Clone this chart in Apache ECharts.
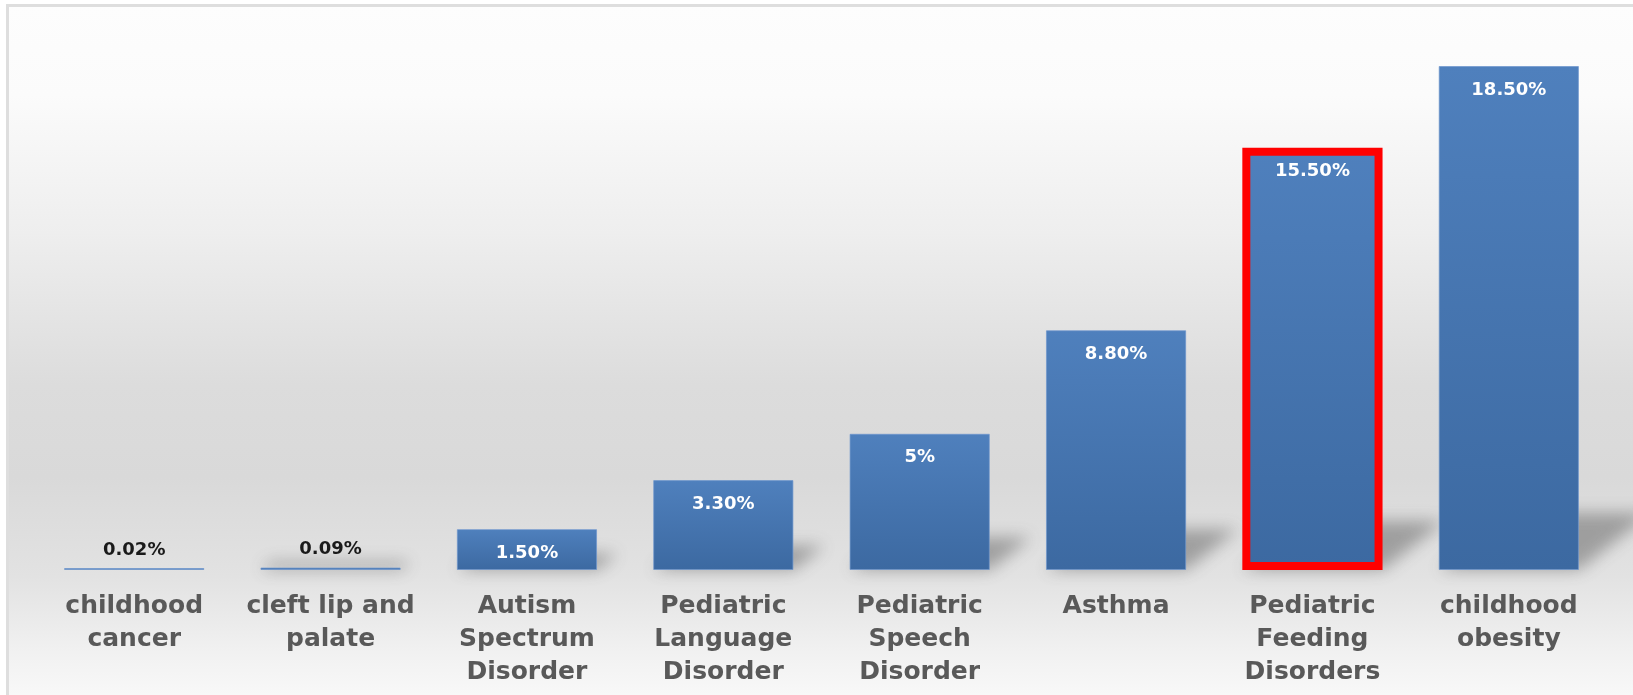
<!DOCTYPE html>
<html>
<head>
<meta charset="utf-8">
<script src="https://cdn.jsdelivr.net/npm/echarts@6/dist/echarts.min.js"></script>
<style>
html,body{margin:0;padding:0;background:#ffffff;}
#chart{width:1633px;height:695px;}
</style>
</head>
<body>
<div id="chart"></div>
<script>
const categories = [
  "childhood\ncancer",
  "cleft lip and\npalate",
  "Autism\nSpectrum\nDisorder",
  "Pediatric\nLanguage\nDisorder",
  "Pediatric\nSpeech\nDisorder",
  "Asthma",
  "Pediatric\nFeeding\nDisorders",
  "childhood\nobesity"
];
const values = [0.02, 0.09, 1.5, 3.3, 5, 8.8, 15.5, 18.5];
const valueLabels = ["0.02%", "0.09%", "1.50%", "3.30%", "5%", "8.80%", "15.50%", "18.50%"];
const highlightIndex = 6;

const chart = echarts.init(document.getElementById('chart'), null, {renderer: 'canvas'});

const barGradient = new echarts.graphic.LinearGradient(0, 0, 0, 1, [
  {offset: 0, color: '#4f80bd'},
  {offset: 1, color: '#3c69a1'}
]);

const barData = values.map((v, i) => {
  const item = {value: v};
  if (v < 1) {
    item.label = {position: 'top', color: '#1a1a1a', distance: 9};
  }
  if (i === highlightIndex) {
    item.itemStyle = {borderColor: '#ff0000', borderWidth: 8};
  }
  return item;
});

const SHIFT = 3000;

const option = {
  backgroundColor: '#ffffff',
  animation: false,
  graphic: [{
    type: 'rect',
    z: -10,
    shape: {x: 7.5, y: 5.5, width: 1700, height: 760},
    style: {
      stroke: '#dedede',
      lineWidth: 3,
      fill: new echarts.graphic.LinearGradient(0, 0, 0, 1, [
        {offset: 0, color: '#fdfdfd'},
        {offset: 0.12, color: '#fbfbfb'},
        {offset: 0.3, color: '#eeeeee'},
        {offset: 0.5, color: '#dcdcdc'},
        {offset: 0.62, color: '#d9d9d9'},
        {offset: 0.75, color: '#e2e2e2'},
        {offset: 0.85, color: '#f1f1f1'},
        {offset: 0.92, color: '#fafafa'},
        {offset: 1, color: '#fcfcfc'}
      ])
    }
  }],
  grid: {left: 36, right: 26, top: 66, bottom: 125, containLabel: false},
  xAxis: {
    type: 'category',
    data: categories,
    axisLine: {show: false},
    axisTick: {show: false},
    axisLabel: {
      interval: 0,
      margin: 20,
      verticalAlign: 'top',
      color: '#595959',
      fontFamily: 'DejaVu Sans',
      fontWeight: 'bold',
      fontSize: 25,
      lineHeight: 33
    }
  },
  yAxis: {
    type: 'value',
    min: 0,
    max: 18.5,
    show: false,
    splitLine: {show: false}
  },
  series: [
    {
      type: 'custom',
      z: 1,
      silent: true,
      clip: false,
      data: values,
      renderItem: function (params, api) {
        const v = api.value(0);
        const base = api.coord([params.dataIndex, 0]);
        const top = api.coord([params.dataIndex, v]);
        const h = base[1] - top[1];
        const w = api.size([1, 0])[0] * 0.714;
        const xL = base[0] - w / 2 - SHIFT;
        const xR = base[0] + w / 2 - SHIFT;
        const dx = Math.min(0.38 * h, 100);
        const dy = Math.min(0.3 * h, 82);
        return {
          type: 'polygon',
          shape: {points: [[xL, base[1]], [xR, base[1]], [xR + dx, base[1] - dy], [xL + dx, base[1] - dy]]},
          style: {
            fill: '#000000',
            shadowBlur: 16,
            shadowOffsetX: SHIFT,
            shadowColor: 'rgba(70,70,70,0.42)'
          }
        };
      }
    },
    {
      type: 'bar',
      z: 2,
      data: barData,
      barCategoryGap: '28.6%',
      barMinHeight: 2,
      itemStyle: {
        color: barGradient,
        borderColor: 'rgba(110,150,205,0.7)',
        borderWidth: 1
      },
      label: {
        show: true,
        position: 'insideTop',
        distance: 15,
        color: '#ffffff',
        fontFamily: 'DejaVu Sans',
        fontWeight: 'bold',
        fontSize: 18,
        formatter: function (p) { return valueLabels[p.dataIndex]; }
      }
    }
  ]
};

chart.setOption(option);
</script>
</body>
</html>
